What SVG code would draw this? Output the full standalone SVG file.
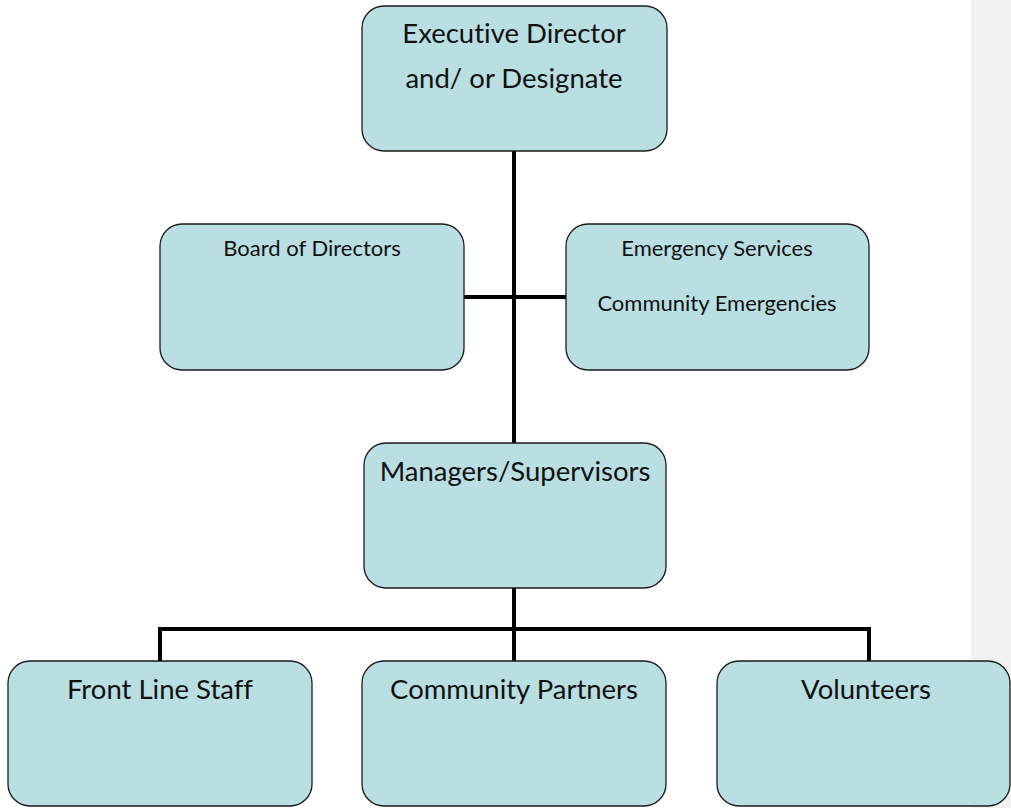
<svg xmlns="http://www.w3.org/2000/svg" width="1011" height="808" viewBox="0 0 1011 808">
<style>
.box{fill:#b9dfe3;stroke:#1a1a1a;stroke-width:1.3}
.ln{fill:none;stroke:#000;stroke-width:4}
.t{font-family:Lato,"Open Sans","Liberation Sans",sans-serif;fill:#111;text-anchor:middle;font-variant-ligatures:none}
.big{font-size:27.5px}
.sm{font-size:22px}
</style>
<rect x="0" y="0" width="1011" height="808" fill="#fff"/>
<rect x="971" y="0" width="40" height="808" fill="#f1f1f1"/>
<g id="connectors">
<line class="ln" x1="514" y1="151" x2="514" y2="443"/>
<line class="ln" x1="464" y1="297" x2="566" y2="297"/>
<polyline class="ln" points="514,588 514,629"/>
<polyline class="ln" points="160,661 160,629 869,629 869,661"/>
<line class="ln" x1="514" y1="629" x2="514" y2="661"/>
</g>
<g id="exec">
<rect class="box" x="362" y="6" width="305" height="145" rx="22"/>
<text class="t big" x="514" y="43">Executive Director</text>
<text class="t big" x="514" y="88">and/ or Designate</text>
</g>
<g id="board">
<rect class="box" x="160" y="224" width="304" height="146" rx="22"/>
<text class="t sm" x="312" y="256">Board of Directors</text>
</g>
<g id="emergency">
<rect class="box" x="566" y="224" width="303" height="146" rx="22"/>
<text class="t sm" x="717" y="256">Emergency Services</text>
<text class="t sm" x="717" y="311">Community Emergencies</text>
</g>
<g id="managers">
<rect class="box" x="364" y="443" width="302" height="145" rx="22"/>
<text class="t big" x="515" y="481">Managers/Supervisors</text>
</g>
<g id="frontline">
<rect class="box" x="8" y="661" width="304" height="145" rx="22"/>
<text class="t big" x="160" y="699">Front Line Staff</text>
</g>
<g id="partners">
<rect class="box" x="362" y="661" width="304" height="145" rx="22"/>
<text class="t big" x="514" y="699">Community Partners</text>
</g>
<g id="volunteers">
<rect class="box" x="717" y="661" width="293" height="145" rx="22"/>
<text class="t big" x="866" y="699">Volunteers</text>
</g>
</svg>
